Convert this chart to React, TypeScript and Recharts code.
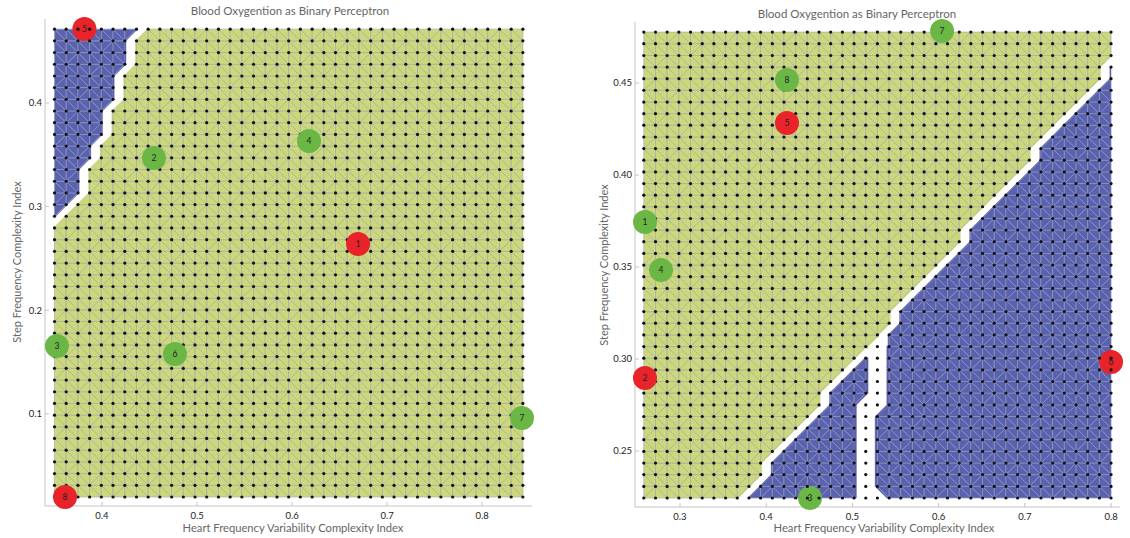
import { ScatterChart, Scatter, XAxis, YAxis } from 'recharts'

const FONT = 'Lato, "Open Sans", sans-serif'
const YELLOW = '#cdd87b'
const BLUE = '#5a62ab'
const MESH_ON_YELLOW = '#a5aea8'
const MESH_ON_BLUE = '#8d93cb'
const RED = '#e8232a'
const GREEN = '#6bb746'
const FRAME = '#c4c4c4'
// interpolated class value below LO is drawn yellow, above HI blue, between stays white
const LO = 0.1
const HI = 0.9
const UNDECIDED = 0.5

const TITLE = 'Blood Oxygention as Binary Perceptron'
const X_LABEL = 'Heart Frequency Variability Complexity Index'
const Y_LABEL = 'Step Frequency Complexity Index'

// ---- left panel ----
const LEFT_GRID_X = [
  0.35, 0.3623, 0.3747, 0.387, 0.3993, 0.4116, 0.424, 0.4363, 0.4486, 0.4609, 0.4733, 0.4856, 0.4979, 0.5102,
  0.5226, 0.5349, 0.5472, 0.5595, 0.5719, 0.5842, 0.5965, 0.6088, 0.6212, 0.6335, 0.6458, 0.6581, 0.6705, 0.6828,
  0.6951, 0.7074, 0.7198, 0.7321, 0.7444, 0.7567, 0.7691, 0.7814, 0.7937, 0.806, 0.8184, 0.8307, 0.843,
]
const LEFT_GRID_Y = [
  0.0197, 0.031, 0.0423, 0.0536, 0.0649, 0.0762, 0.0874, 0.0987, 0.11, 0.1213, 0.1326, 0.1439, 0.1552, 0.1665,
  0.1778, 0.1891, 0.2003, 0.2116, 0.2229, 0.2342, 0.2455, 0.2568, 0.2681, 0.2794, 0.2907, 0.302, 0.3132, 0.3245,
  0.3358, 0.3471, 0.3584, 0.3697, 0.381, 0.3923, 0.4036, 0.4149, 0.4261, 0.4374, 0.4487, 0.46, 0.4713,
]
// number of grid points classed "blue" in each row, top row first (missing rows = 0)
const LEFT_BLUE_PER_ROW = [8, 7, 7, 7, 6, 6, 6, 5, 5, 5, 4, 4, 3, 3, 3, 2, 1]
const LEFT_X_TICKS = [0.4, 0.5, 0.6, 0.7, 0.8]
const LEFT_Y_TICKS = [0.1, 0.2, 0.3, 0.4]

// ---- right panel ----
const RIGHT_GRID_X = [
  0.258, 0.2716, 0.2851, 0.2987, 0.3122, 0.3258, 0.3393, 0.3529, 0.3664, 0.38, 0.3935, 0.4071, 0.4206, 0.4342,
  0.4477, 0.4613, 0.4748, 0.4884, 0.5019, 0.5155, 0.529, 0.5426, 0.5561, 0.5697, 0.5832, 0.5968, 0.6103, 0.6239,
  0.6374, 0.651, 0.6645, 0.6781, 0.6916, 0.7052, 0.7187, 0.7323, 0.7458, 0.7594, 0.7729, 0.7865, 0.8,
]
const RIGHT_GRID_Y = [
  0.2245, 0.2308, 0.2372, 0.2435, 0.2498, 0.2562, 0.2625, 0.2688, 0.2751, 0.2815, 0.2878, 0.2941, 0.3005, 0.3068,
  0.3131, 0.3195, 0.3258, 0.3321, 0.3384, 0.3448, 0.3511, 0.3574, 0.3638, 0.3701, 0.3764, 0.3828, 0.3891, 0.3954,
  0.4017, 0.4081, 0.4144, 0.4207, 0.4271, 0.4334, 0.4397, 0.4461, 0.4524, 0.4587, 0.465, 0.4714, 0.4777,
]
// first "blue" row in each column, counted from the top (41 = none)
const RIGHT_BLUE_FROM_ROW = [
  41, 41, 41, 41, 41, 41, 41, 41, 41, 40, 39, 37, 36, 35, 34, 33, 31, 30, 29, 28, 27, 26, 24, 23, 22, 21, 20, 19,
  17, 16, 15, 14, 13, 12, 10, 9, 8, 7, 6, 5, 3,
]
// undecided strip inside the blue area: [column, first row, last row] from the top
const RIGHT_UNDECIDED = [
  [20, 27, 32],
  [19, 32, 40],
  [20, 40, 40],
]
const RIGHT_X_TICKS = [0.3, 0.4, 0.5, 0.6, 0.7, 0.8]
const RIGHT_Y_TICKS = [0.25, 0.3, 0.35, 0.4, 0.45]

type Sample = { label: string; x: number; y: number; ok: boolean; under?: boolean }

const LEFT_SAMPLES: Sample[] = [
  { label: '5', x: 0.3815, y: 0.4714, ok: false, under: true },
  { label: '2', x: 0.4547, y: 0.3469, ok: true },
  { label: '4', x: 0.6179, y: 0.3633, ok: true },
  { label: '1', x: 0.6695, y: 0.2639, ok: false },
  { label: '3', x: 0.3526, y: 0.1655, ok: true },
  { label: '6', x: 0.4768, y: 0.1577, ok: true },
  { label: '7', x: 0.8421, y: 0.096, ok: true },
  { label: '8', x: 0.3611, y: 0.0197, ok: false },
]

const RIGHT_SAMPLES: Sample[] = [
  { label: '7', x: 0.604, y: 0.4783, ok: true },
  { label: '8', x: 0.4241, y: 0.4517, ok: true },
  { label: '5', x: 0.4241, y: 0.4283, ok: false },
  { label: '1', x: 0.2594, y: 0.3745, ok: true },
  { label: '4', x: 0.278, y: 0.3484, ok: true },
  { label: '2', x: 0.2594, y: 0.2897, ok: false },
  { label: '6', x: 0.8, y: 0.2984, ok: false, under: true },
  { label: '3', x: 0.4508, y: 0.2245, ok: true, under: true },
]

type Pt = [number, number]

// part of a triangle where the linearly interpolated value is below (or above) t
function clipPoly(pts: Pt[], vals: number[], t: number, below: boolean): Pt[] {
  const inside = (v: number) => (below ? v <= t : v >= t)
  const out: Pt[] = []
  for (let k = 0; k < pts.length; k++) {
    const n = (k + 1) % pts.length
    const p = pts[k]
    const q = pts[n]
    if (inside(vals[k])) out.push(p)
    if (inside(vals[k]) !== inside(vals[n])) {
      const s = (t - vals[k]) / (vals[n] - vals[k])
      out.push([p[0] + s * (q[0] - p[0]), p[1] + s * (q[1] - p[1])])
    }
  }
  return out
}

const pstr = (ps: Pt[]) => ps.map((p) => `${p[0]},${p[1]}`).join(' ')

function triangle(pts: Pt[], vals: number[], key: string) {
  const [a, b, c] = vals
  if (a === b && b === c && (a === 0 || a === 1)) {
    return (
      <polygon
        key={key}
        points={pstr(pts)}
        fill={a ? BLUE : YELLOW}
        stroke={a ? MESH_ON_BLUE : MESH_ON_YELLOW}
        strokeWidth={0.7}
      />
    )
  }
  const yel = clipPoly(pts, vals, LO, true)
  const blu = clipPoly(pts, vals, HI, false)
  return (
    <g key={key}>
      {yel.length > 2 && <polygon points={pstr(yel)} fill={YELLOW} stroke={YELLOW} strokeWidth={0.4} />}
      {blu.length > 2 && <polygon points={pstr(blu)} fill={BLUE} stroke={BLUE} strokeWidth={0.4} />}
    </g>
  )
}

interface Spec {
  left: number
  width: number
  height: number
  margin: { top: number; right: number; bottom: number; left: number }
  yAxisWidth: number
  xAxisHeight: number
  xDomain: [number, number]
  yDomain: [number, number]
  xTicks: number[]
  yTicks: number[]
  yDigits: number
  gridX: number[]
  gridY: number[]
  classOf: (i: number, j: number) => number
  samples: Sample[]
}

function Panel({ s }: { s: Spec }) {
  const plotW = s.width - s.margin.left - s.margin.right - s.yAxisWidth
  const plotH = s.height - s.margin.top - s.margin.bottom - s.xAxisHeight
  const kx = plotW / (s.xDomain[1] - s.xDomain[0])
  const ky = plotH / (s.yDomain[1] - s.yDomain[0])

  const nodes: { x: number; y: number }[] = []
  const cells: { x: number; y: number; i: number; j: number }[] = []
  s.gridY.forEach((y, j) =>
    s.gridX.forEach((x, i) => {
      nodes.push({ x, y })
      if (i < s.gridX.length - 1 && j < s.gridY.length - 1) cells.push({ x, y, i, j })
    }),
  )

  const cellShape = (p: any) => {
    const { cx, cy, payload } = p
    const { i, j } = payload
    const w = kx * (s.gridX[i + 1] - s.gridX[i])
    const h = ky * (s.gridY[j + 1] - s.gridY[j])
    const A: Pt = [cx, cy]
    const B: Pt = [cx + w, cy]
    const C: Pt = [cx + w, cy - h]
    const D: Pt = [cx, cy - h]
    const vA = s.classOf(i, j)
    const vB = s.classOf(i + 1, j)
    const vC = s.classOf(i + 1, j + 1)
    const vD = s.classOf(i, j + 1)
    // mesh diagonal: keep a lone differing corner in its own triangle
    let slash = (i + 2 * j) % 5 === 0
    if (vB === vC && vC === vD && vA !== vB) slash = false
    else if (vA === vB && vB === vD && vC !== vA) slash = false
    else if (vA === vC && vC === vD && vB !== vA) slash = true
    else if (vA === vB && vB === vC && vD !== vA) slash = true
    return (
      <g>
        {slash
          ? [triangle([A, B, C], [vA, vB, vC], 'a'), triangle([A, C, D], [vA, vC, vD], 'b')]
          : [triangle([A, B, D], [vA, vB, vD], 'a'), triangle([B, C, D], [vB, vC, vD], 'b')]}
      </g>
    )
  }

  const dotShape = (p: any) => <circle cx={p.cx} cy={p.cy} r={1.6} fill="#111" />

  const sampleShape = (p: any) => (
    <g>
      <circle cx={p.cx} cy={p.cy} r={12} fill={p.payload.ok ? GREEN : RED} />
      <text x={p.cx} y={p.cy} dy="0.35em" textAnchor="middle" fontSize={8.5} fontFamily={FONT} fill="#222">
        {p.payload.label}
      </text>
    </g>
  )

  const tickStyle = { fill: '#222', fontSize: 9.5, fontFamily: FONT }

  return (
    <div style={{ position: 'absolute', left: s.left, top: 0 }}>
      <ScatterChart width={s.width} height={s.height} margin={s.margin}>
        <XAxis
          dataKey="x"
          type="number"
          domain={s.xDomain}
          ticks={s.xTicks}
          interval={0}
          height={s.xAxisHeight}
          stroke={FRAME}
          tickSize={-4}
          tickMargin={10}
          tick={tickStyle}
          tickFormatter={(v: number) => v.toFixed(1)}
        />
        <XAxis
          xAxisId="top"
          orientation="top"
          type="number"
          domain={s.xDomain}
          ticks={s.xTicks}
          interval={0}
          height={0}
          stroke={FRAME}
          tickSize={-4}
          tick={false}
        />
        <YAxis
          dataKey="y"
          type="number"
          domain={s.yDomain}
          ticks={s.yTicks}
          interval={0}
          width={s.yAxisWidth}
          stroke={FRAME}
          tickSize={-4}
          tickMargin={7}
          tick={tickStyle}
          tickFormatter={(v: number) => v.toFixed(s.yDigits)}
        />
        <YAxis
          yAxisId="right"
          orientation="right"
          type="number"
          domain={s.yDomain}
          ticks={s.yTicks}
          interval={0}
          width={0}
          stroke={FRAME}
          tickSize={-4}
          tick={false}
        />
        <Scatter data={cells} shape={cellShape} isAnimationActive={false} />
        <Scatter data={s.samples.filter((d) => d.under)} shape={sampleShape} isAnimationActive={false} />
        <Scatter data={nodes} shape={dotShape} isAnimationActive={false} />
        <Scatter data={s.samples.filter((d) => !d.under)} shape={sampleShape} isAnimationActive={false} />
      </ScatterChart>
    </div>
  )
}

const leftSpec: Spec = {
  left: 0,
  width: 560,
  height: 538,
  margin: { top: 19, right: 28, bottom: 10, left: 10 },
  yAxisWidth: 35,
  xAxisHeight: 22,
  xDomain: [0.34, 0.8526],
  yDomain: [0.011, 0.4811],
  xTicks: LEFT_X_TICKS,
  yTicks: LEFT_Y_TICKS,
  yDigits: 1,
  gridX: LEFT_GRID_X,
  gridY: LEFT_GRID_Y,
  classOf: (i, j) => {
    const row = LEFT_GRID_Y.length - 1 - j
    return i < (LEFT_BLUE_PER_ROW[row] ?? 0) ? 1 : 0
  },
  samples: LEFT_SAMPLES,
}

const rightSpec: Spec = {
  left: 565,
  width: 565,
  height: 538,
  margin: { top: 22, right: 10, bottom: 10, left: 25 },
  yAxisWidth: 45,
  xAxisHeight: 21,
  xDomain: [0.2478, 0.8104],
  yDomain: [0.2196, 0.4832],
  xTicks: RIGHT_X_TICKS,
  yTicks: RIGHT_Y_TICKS,
  yDigits: 2,
  gridX: RIGHT_GRID_X,
  gridY: RIGHT_GRID_Y,
  classOf: (i, j) => {
    const row = RIGHT_GRID_Y.length - 1 - j
    if (RIGHT_UNDECIDED.some(([c, a, b]) => c === i && row >= a && row <= b)) return UNDECIDED
    return row >= RIGHT_BLUE_FROM_ROW[i] ? 1 : 0
  },
  samples: RIGHT_SAMPLES,
}

const labelStyle = (x: number, y: number, size: number, rotate = false): React.CSSProperties => ({
  position: 'absolute',
  left: x,
  top: y,
  transform: `translate(-50%, -50%)${rotate ? ' rotate(-90deg)' : ''}`,
  fontFamily: FONT,
  fontSize: size,
  color: '#666',
  whiteSpace: 'nowrap',
  lineHeight: 1,
})

export default function App() {
  return (
    <div style={{ position: 'absolute', left: 0, top: 0, width: 1130, height: 538, background: '#fff' }}>
      <Panel s={leftSpec} />
      <Panel s={rightSpec} />
      <div style={labelStyle(290, 11, 11.5)}>{TITLE}</div>
      <div style={labelStyle(293, 528, 11.2)}>{X_LABEL}</div>
      <div style={labelStyle(16, 262, 11, true)}>{Y_LABEL}</div>
      <div style={labelStyle(857, 14, 11.5)}>{TITLE}</div>
      <div style={labelStyle(884, 528, 11.2)}>{X_LABEL}</div>
      <div style={labelStyle(603, 265, 11, true)}>{Y_LABEL}</div>
    </div>
  )
}
